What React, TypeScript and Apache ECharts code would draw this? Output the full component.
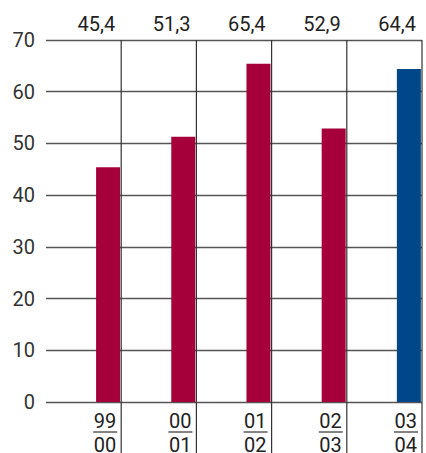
import React, { useEffect, useRef } from "react";
import * as echarts from "echarts";

const periodsTop = ["99", "00", "01", "02", "03"];
const periodsBottom = ["00", "01", "02", "03", "04"];
const values = [45.4, 51.3, 65.4, 52.9, 64.4];
const valueLabels = ["45,4", "51,3", "65,4", "52,9", "64,4"];
const yTicks = [0, 10, 20, 30, 40, 50, 60, 70];

const RED = "#A6003A";
const BLUE = "#00478A";
const FONT = "Roboto";

export default function App() {
  const ref = useRef<HTMLDivElement>(null);
  useEffect(() => {
    const chart = echarts.init(ref.current!, null, { renderer: "svg" });
    const cats = periodsTop.map((p, i) => p + "/" + periodsBottom[i]);
    chart.setOption({
      animation: false,
      grid: { left: 46, right: 4, top: 40, bottom: 51 },
      xAxis: {
        type: "category",
        data: cats,
        axisLabel: { show: false },
        axisTick: { show: false },
        axisLine: { show: false },
        splitLine: { show: false },
      },
      yAxis: {
        type: "value",
        min: yTicks[0],
        max: yTicks[yTicks.length - 1],
        interval: 10,
        axisLine: { show: false },
        axisTick: { show: false },
        axisLabel: { color: "#333", fontSize: 20, fontFamily: FONT, margin: 11 },
        splitLine: { lineStyle: { color: "#555", width: 1.3 } },
      },
      series: [
        {
          type: "bar",
          barWidth: 24,
          barGap: "104%",
          data: values.map(() => "-"),
          silent: true,
        },
        {
          type: "bar",
          barWidth: 24,
          data: values.map((v, i) => ({
            value: v,
            itemStyle: { color: i === values.length - 1 ? BLUE : RED },
          })),
          z: 3,
        },
        {
          type: "custom",
          clip: false,
          z: 4,
          data: values.map((_, i) => [i, 0]),
          renderItem: (params: any, api: any) => {
            const i = params.dataIndex;
            const top = api.coord([i, yTicks[yTicks.length - 1]]);
            const bot = api.coord([i, 0]);
            const bw = api.size([1, 0])[0];
            const right = top[0] + bw / 2;
            const textStyle = { fill: "#222", fontSize: 20, fontFamily: FONT };
            return {
              type: "group",
              children: [
                {
                  type: "line",
                  shape: { x1: right, y1: top[1], x2: right, y2: bot[1] + 60 },
                  style: { stroke: "#333", lineWidth: 1.2 },
                },
                {
                  type: "text",
                  style: {
                    ...textStyle,
                    text: valueLabels[i],
                    x: right - 6,
                    y: top[1] - 16,
                    align: "right",
                    verticalAlign: "middle",
                  },
                },
                {
                  type: "text",
                  style: {
                    ...textStyle,
                    text: periodsTop[i],
                    x: right - 5,
                    y: bot[1] + 19,
                    align: "right",
                    verticalAlign: "middle",
                  },
                },
                {
                  type: "line",
                  shape: { x1: right - 28, y1: bot[1] + 30, x2: right - 4, y2: bot[1] + 30 },
                  style: { stroke: "#333", lineWidth: 1.2 },
                },
                {
                  type: "text",
                  style: {
                    ...textStyle,
                    text: periodsBottom[i],
                    x: right - 5,
                    y: bot[1] + 43,
                    align: "right",
                    verticalAlign: "middle",
                  },
                },
              ],
            };
          },
        },
      ],
    });
    return () => chart.dispose();
  }, []);
  return <div ref={ref} style={{ width: 426, height: 453, position: "absolute", left: 0, top: 0 }} />;
}
